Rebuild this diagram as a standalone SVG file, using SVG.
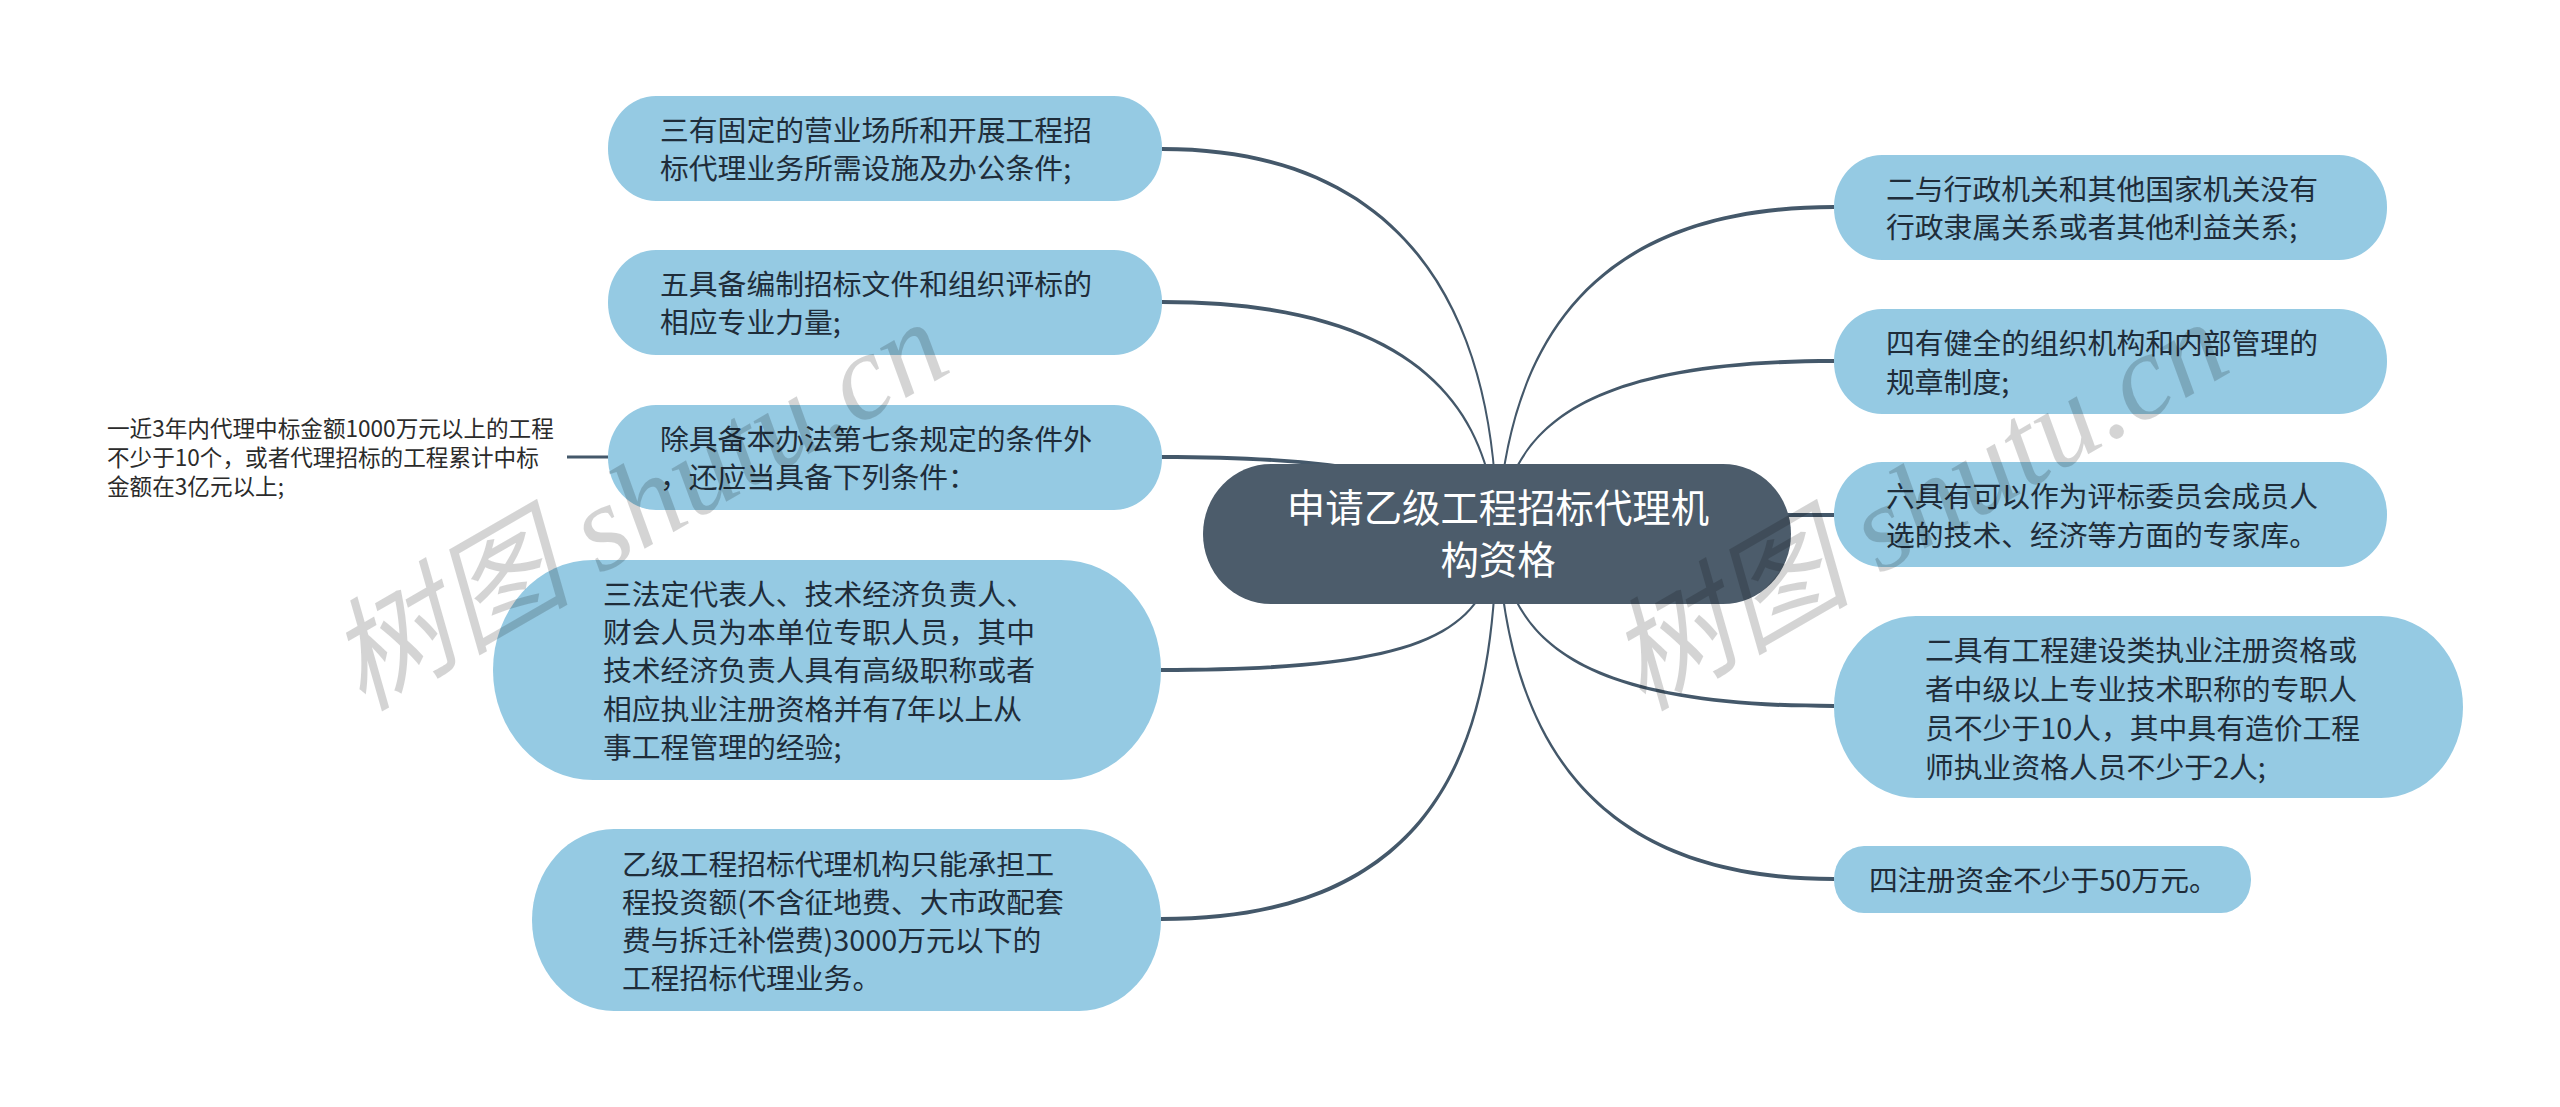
<svg xmlns="http://www.w3.org/2000/svg" width="2560" height="1107" viewBox="0 0 2560 1107">
<style>
text{font-family:"Noto Sans CJK SC","Noto Sans",sans-serif}
.n{fill:#95cae3}
.c{fill:#4c5c6b}
.t{font-size:28.8px;fill:#1f2d3a}
.l{font-size:22.6px;fill:#2b2b2b}
.h{font-size:38.4px;fill:#fff;text-anchor:middle}
.w{font-family:"Liberation Serif","Noto Sans CJK SC",serif;font-size:122px;font-style:italic;fill:#000;fill-opacity:.17}
#connectors path{fill:#44586a}
</style>
<rect width="2560" height="1107" fill="#fff"/>
<g id="connectors">
<path d="M1498 534C1498 353 1436 147 1162 147V151C1434 151 1496 353 1496 534Z"/>
<path d="M1498 534C1493 425 1436 300 1162 300V304C1434 304 1491 425 1496 534Z"/>
<path d="M1497 535C1470 490 1400 455 1161 455V459C1400 459 1470 492 1497 533Z"/>
<path d="M1496 534C1489 630 1434 668 1161 668V672C1436 672 1491 630 1498 534Z"/>
<path d="M1496 534C1492 715 1458 917 1161 917V921C1462 921 1494 715 1498 534Z"/>
<path d="M1496 534C1505 380 1560 205 1834 205V209C1562 209 1507 380 1498 534Z"/>
<path d="M1496 534C1509 440 1560 359 1834 359V363C1562 363 1511 440 1498 534Z"/>
<path d="M1497 533C1520 520 1560 513 1834 513V517C1560 517 1520 522 1497 535Z"/>
<path d="M1498 534C1511 630 1560 704 1834 704V708C1558 708 1509 630 1496 534Z"/>
<path d="M1498 534C1507 696 1560 877 1834 877V881C1558 881 1505 696 1496 534Z"/>
<path d="M567 455.500H608V458.500H567Z"/>
</g>
<g id="node-l1"><rect class="n" x="608" y="96" width="554" height="105" rx="48" ry="52"/><text class="t"><tspan x="660" y="141">三有固定的营业场所和开展工程招</tspan><tspan x="660" y="179">标代理业务所需设施及办公条件;</tspan></text></g>
<g id="node-l2"><rect class="n" x="608" y="250" width="554" height="105" rx="48" ry="52"/><text class="t"><tspan x="660" y="295">五具备编制招标文件和组织评标的</tspan><tspan x="660" y="333">相应专业力量;</tspan></text></g>
<g id="node-l3"><rect class="n" x="608" y="405" width="554" height="105" rx="48" ry="52"/><text class="t"><tspan x="660" y="450">除具备本办法第七条规定的条件外</tspan><tspan x="660" y="488">，还应当具备下列条件：</tspan></text></g>
<g id="node-leaf"><text class="l"><tspan x="107" y="437">一近3年内代理中标金额1000万元以上的工程</tspan><tspan x="107" y="466">不少于10个，或者代理招标的工程累计中标</tspan><tspan x="107" y="495">金额在3亿元以上;</tspan></text></g>
<g id="node-l4"><rect class="n" x="493" y="560" width="668" height="220" rx="100" ry="110"/><text class="t"><tspan x="603" y="605">三法定代表人、技术经济负责人、</tspan><tspan x="603" y="643">财会人员为本单位专职人员，其中</tspan><tspan x="603" y="681">技术经济负责人具有高级职称或者</tspan><tspan x="603" y="720">相应执业注册资格并有7年以上从</tspan><tspan x="603" y="758">事工程管理的经验;</tspan></text></g>
<g id="node-l5"><rect class="n" x="532" y="829" width="629" height="182" rx="82" ry="91"/><text class="t"><tspan x="622" y="875">乙级工程招标代理机构只能承担工</tspan><tspan x="622" y="913">程投资额(不含征地费、大市政配套</tspan><tspan x="622" y="951">费与拆迁补偿费)3000万元以下的</tspan><tspan x="622" y="989">工程招标代理业务。</tspan></text></g>
<g id="node-center"><rect class="c" x="1203" y="464" width="588" height="140" rx="68" ry="70"/><text class="h"><tspan x="1498" y="522">申请乙级工程招标代理机</tspan><tspan x="1498" y="574">构资格</tspan></text></g>
<g id="node-r1"><rect class="n" x="1834" y="155" width="553" height="105" rx="48" ry="52"/><text class="t"><tspan x="1886" y="200">二与行政机关和其他国家机关没有</tspan><tspan x="1886" y="238">行政隶属关系或者其他利益关系;</tspan></text></g>
<g id="node-r2"><rect class="n" x="1834" y="309" width="553" height="105" rx="48" ry="52"/><text class="t"><tspan x="1886" y="354">四有健全的组织机构和内部管理的</tspan><tspan x="1886" y="393">规章制度;</tspan></text></g>
<g id="node-r3"><rect class="n" x="1834" y="462" width="553" height="105" rx="48" ry="52"/><text class="t"><tspan x="1886" y="507">六具有可以作为评标委员会成员人</tspan><tspan x="1886" y="546">选的技术、经济等方面的专家库。</tspan></text></g>
<g id="node-r4"><rect class="n" x="1834" y="616" width="629" height="182" rx="82" ry="91"/><text class="t"><tspan x="1925" y="661">二具有工程建设类执业注册资格或</tspan><tspan x="1925" y="700">者中级以上专业技术职称的专职人</tspan><tspan x="1925" y="739">员不少于10人，其中具有造价工程</tspan><tspan x="1925" y="778">师执业资格人员不少于2人;</tspan></text></g>
<g id="node-r5"><rect class="n" x="1834" y="846" width="417" height="67" rx="30" ry="33"/><text class="t"><tspan x="1869" y="891">四注册资金不少于50万元。</tspan></text></g>
<g id="watermarks">
<text class="w" transform="translate(362 712) rotate(-30)">树图 shutu.cn</text>
<text class="w" transform="translate(1642 712) rotate(-30)">树图 shutu.cn</text>
</g>
</svg>
